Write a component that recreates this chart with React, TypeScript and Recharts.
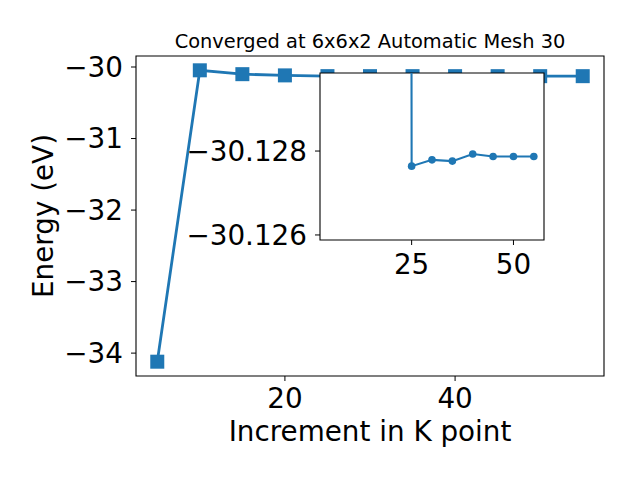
import React from 'react';
import { LineChart, Line, XAxis, YAxis, ReferenceArea, CartesianGrid } from 'recharts';

// Main series
const kPoints = [5, 10, 15, 20, 25, 30, 35, 40, 45, 50, 55];
const energies = [-34.12, -30.046, -30.1, -30.117, -30.1276, -30.1278, -30.1278, -30.1279, -30.1279, -30.1279, -30.1279];

// Inset series
const insetK = [20, 25, 30, 35, 40, 45, 50, 55];
const insetEnergy = [-30.5, -30.12764, -30.12779, -30.12776, -30.12793, -30.12787, -30.12787, -30.12787];

const mainXTicks = [20, 40];
const mainYTicks = [-34, -33, -32, -31, -30];
const insetXTicks = [25, 50];
const insetYTicks = [-30.128, -30.126];

const titleText = 'Converged at 6x6x2 Automatic Mesh 30';
const xLabel = 'Increment in K point';
const yLabel = 'Energy (eV)';

const BLUE = '#1f77b4';
const FONT = '"DejaVu Sans", sans-serif';
const FS = 27.8;

const fmtMinus = (v: number, d: number) => Number(v).toFixed(d).replace('-', '\u2212');

const mainData = kPoints.map((k, i) => ({ k, e: energies[i] }));
const insetData = insetK.map((k, i) => ({ k, e: insetEnergy[i] }));

const MAIN_X = [2.5, 57.5];
const MAIN_Y = [-34.32, -29.846];
const INSET_X = [2.5, 57.5];
const INSET_Y = [-30.12986, -30.12588];

const SquareDot = (props: any) => {
  const { cx, cy, index } = props;
  if (cx == null || cy == null) return <g key={`s${index}`} />;
  return <rect key={`s${index}`} x={cx - 7} y={cy - 7} width={14} height={14} fill={BLUE} />;
};

const tickStyle = { fill: '#000', fontSize: FS, fontFamily: FONT };

export default function App() {
  return (
    <div style={{ position: 'absolute', left: 0, top: 0, width: 640, height: 480, background: '#fff' }}>
      <div style={{ position: 'absolute', left: 0, top: 0 }}>
        <LineChart width={640} height={480} data={mainData} margin={{ top: 56, right: 36, left: 0, bottom: 0 }}>
          <XAxis
            dataKey="k"
            type="number"
            domain={MAIN_X}
            ticks={mainXTicks}
            allowDataOverflow
            height={104}
            tickSize={5}
            tickMargin={7}
            axisLine={false}
            tickLine={{ stroke: '#000' }}
            tick={tickStyle}
            label={{ value: xLabel, position: 'insideBottom', offset: 39, fill: '#000', fontSize: FS, fontFamily: FONT }}
          />
          <YAxis
            type="number"
            domain={MAIN_Y}
            ticks={mainYTicks}
            allowDataOverflow
            width={136}
            tickSize={5}
            tickMargin={8}
            axisLine={false}
            tickLine={{ stroke: '#000' }}
            tick={tickStyle}
            tickFormatter={(v: number) => fmtMinus(v, 0)}
            label={{ value: yLabel, angle: -90, position: 'insideLeft', offset: 43, fill: '#000', fontSize: FS, fontFamily: FONT, style: { textAnchor: 'middle' } }}
          />
          <ReferenceArea x1={MAIN_X[0]} x2={MAIN_X[1]} y1={MAIN_Y[0]} y2={MAIN_Y[1]} fill="none" stroke="#000" strokeWidth={1.1} fillOpacity={0} />
          <Line dataKey="e" stroke={BLUE} strokeWidth={2.8} dot={SquareDot} isAnimationActive={false} />
        </LineChart>
      </div>
      <div style={{ position: 'absolute', left: 0, top: 0 }}>
        <LineChart width={640} height={480} data={insetData} margin={{ top: 73, right: 96, left: 0, bottom: 0 }}>
          <CartesianGrid horizontal={false} vertical={false} fill="#fff" fillOpacity={1} />
          <XAxis
            dataKey="k"
            type="number"
            domain={INSET_X}
            ticks={insetXTicks}
            allowDataOverflow
            height={240}
            tickSize={5}
            tickMargin={9}
            axisLine={false}
            tickLine={{ stroke: '#000' }}
            tick={tickStyle}
          />
          <YAxis
            type="number"
            reversed
            domain={INSET_Y}
            ticks={insetYTicks}
            allowDataOverflow
            width={320}
            tickSize={5}
            tickMargin={8}
            axisLine={false}
            tickLine={{ stroke: '#000' }}
            tick={tickStyle}
            tickFormatter={(v: number) => fmtMinus(v, 3)}
          />
          <ReferenceArea x1={INSET_X[0]} x2={INSET_X[1]} y1={INSET_Y[0]} y2={INSET_Y[1]} fill="none" stroke="#000" strokeWidth={1.1} fillOpacity={0} />
          <Line dataKey="e" stroke={BLUE} strokeWidth={2.1} dot={{ r: 3.8, fill: BLUE, stroke: 'none' }} isAnimationActive={false} />
        </LineChart>
      </div>
      <svg width={640} height={480} style={{ position: 'absolute', left: 0, top: 0, pointerEvents: 'none' }}>
        <text x={370} y={48} textAnchor="middle" fontSize={19.4} fontFamily={FONT} fill="#000">
          {titleText}
        </text>
      </svg>
    </div>
  );
}
